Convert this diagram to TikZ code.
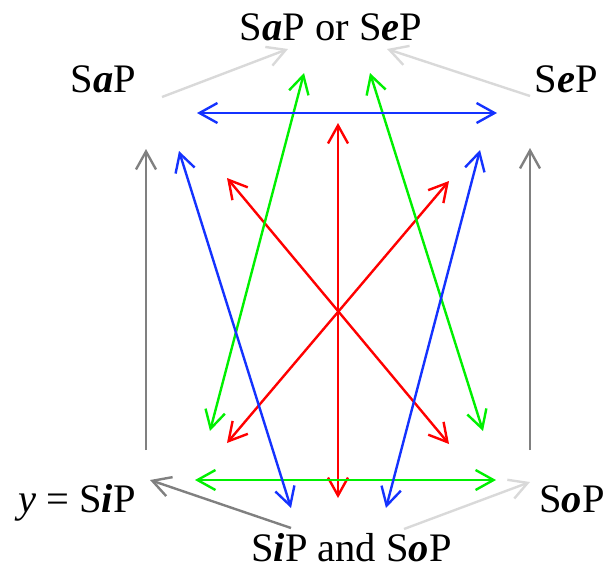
\documentclass[tikz,border=0pt]{standalone}
\usepackage{fontspec}
\setmainfont{Liberation Serif}
\usetikzlibrary{arrows.meta}
\definecolor{cblue}{RGB}{20,50,255}
\definecolor{cgreen}{RGB}{0,240,0}
\definecolor{cred}{RGB}{255,0,0}
\definecolor{cgray}{RGB}{128,128,128}
\definecolor{clight}{RGB}{217,217,217}
\newcommand{\bi}[1]{\textbf{\textit{#1}}}
\begin{document}
\begin{tikzpicture}[x=1pt,y=-1pt,
  lbl/.style={font=\fontsize{40.5}{48}\selectfont, inner sep=0pt, anchor=base},
  tip/.tip={Straight Barb[length=18pt,width=20pt]},
  conn/.style={line width=2.4pt, -tip},
  dbl/.style={line width=2.4pt, tip-tip}]
\useasboundingbox (0,0) rectangle (611,568);

\node[lbl] (top) at (331,40) {S\bi{a}P or S\bi{e}P};
\node[lbl] (A) at (103.5,92) {S\bi{a}P};
\node[lbl] (E) at (566.5,92) {S\bi{e}P};
\node[lbl] (I) at (77,512) {\textit{y} = S\bi{i}P};
\node[lbl] (O) at (572,512) {S\bi{o}P};
\node[lbl] (bot) at (351.5,561) {S\bi{i}P and S\bi{o}P};

% endpoints
\coordinate (g1s) at (162,97);  \coordinate (g1e) at (288,49);
\coordinate (g2s) at (530,96);  \coordinate (g2e) at (387,49);
\coordinate (g3s) at (404,529); \coordinate (g3e) at (530,482);
\coordinate (g4s) at (291,528); \coordinate (g4e) at (150,480);
\coordinate (g5s) at (146,450); \coordinate (g5e) at (146,149);
\coordinate (g6s) at (530,450); \coordinate (g6e) at (530,148);

\coordinate (b1s) at (197,113); \coordinate (b1e) at (497,113);
\coordinate (b2s) at (179,151); \coordinate (b2e) at (291,508);
\coordinate (b3s) at (480,150); \coordinate (b3e) at (386,508);

\coordinate (n1s) at (195,480); \coordinate (n1e) at (496,480);
\coordinate (n2s) at (304,73);  \coordinate (n2e) at (210,431);
\coordinate (n3s) at (370,73);  \coordinate (n3e) at (483,431);

\coordinate (r1s) at (338,123); \coordinate (r1e) at (338,498);
\coordinate (r2s) at (227,178); \coordinate (r2e) at (449,444);
\coordinate (r3s) at (449,181); \coordinate (r3e) at (227,443);

\draw[conn,clight] (g1s) -- (g1e);
\draw[conn,clight] (g2s) -- (g2e);
\draw[conn,clight] (g3s) -- (g3e);
\draw[conn,cgray] (g4s) -- (g4e);
\draw[conn,cgray] (g5s) -- (g5e);
\draw[conn,cgray] (g6s) -- (g6e);

\draw[dbl,cred] (r1s) -- (r1e);
\draw[dbl,cred] (r2s) -- (r2e);
\draw[dbl,cred] (r3s) -- (r3e);

\draw[dbl,cgreen] (n1s) -- (n1e);
\draw[dbl,cgreen] (n2s) -- (n2e);
\draw[dbl,cgreen] (n3s) -- (n3e);

\draw[dbl,cblue] (b1s) -- (b1e);
\draw[dbl,cblue] (b2s) -- (b2e);
\draw[dbl,cblue] (b3s) -- (b3e);
\end{tikzpicture}
\end{document}
